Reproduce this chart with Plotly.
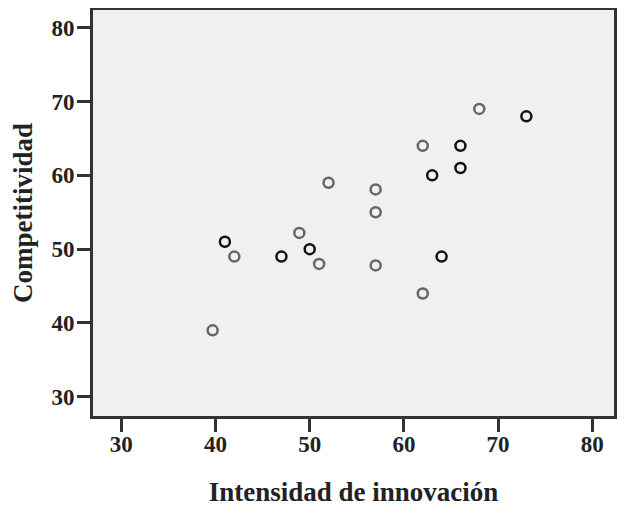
import plotly.graph_objects as go

# grupo 1 (círculos negros)
x_negro = [41, 47, 50, 63, 64, 66, 66, 73]
y_negro = [51, 49, 50, 60, 49, 64, 61, 68]

# grupo 2 (círculos grises)
x_gris = [39.7, 42, 48.9, 51, 52, 57, 57, 57, 62, 62, 68]
y_gris = [39, 49, 52.2, 48, 59, 58.1, 55, 47.8, 64, 44, 69]

ticks = [30, 40, 50, 60, 70, 80]

fig = go.Figure()
fig.add_trace(go.Scatter(
    x=x_gris, y=y_gris, mode="markers",
    marker=dict(symbol="circle-open", size=10, color="#666666", line=dict(width=2.5)),
))
fig.add_trace(go.Scatter(
    x=x_negro, y=y_negro, mode="markers",
    marker=dict(symbol="circle-open", size=10, color="#111111", line=dict(width=2.5)),
))

font = dict(family="Liberation Serif", size=23, color="#222222")

# the page body adds 8px, so the figure is a bit smaller than the window
fig.update_layout(
    width=619, height=499,
    margin=dict(l=85, r=13, t=2, b=91),
    paper_bgcolor="white",
    plot_bgcolor="#f0f0f2",
    showlegend=False,
    font=font,
)
fig.update_xaxes(
    range=[27.0, 82.3], tickvals=ticks, ticktext=[f"<b>{t}</b>" for t in ticks],
    showgrid=False, zeroline=False, automargin=False,
    showline=True, linewidth=3, linecolor="#333333", mirror=True,
    ticks="outside", ticklen=13, tickwidth=3, tickcolor="#333333",
    ticklabelstandoff=-8,
    title=dict(text="<b>Intensidad de innovación</b>", font=dict(size=27), standoff=33),
)
fig.update_yaxes(
    range=[27.4, 82.4], tickvals=ticks, ticktext=[f"<b>{t}</b>" for t in ticks],
    showgrid=False, zeroline=False, automargin=False,
    showline=True, linewidth=3, linecolor="#333333", mirror=True,
    ticks="outside", ticklen=13, tickwidth=3, tickcolor="#333333",
    ticklabelstandoff=-2,
    title=dict(text="<b>Competitividad</b>", font=dict(size=27), standoff=28),
)

fig.write_html("out.html")
